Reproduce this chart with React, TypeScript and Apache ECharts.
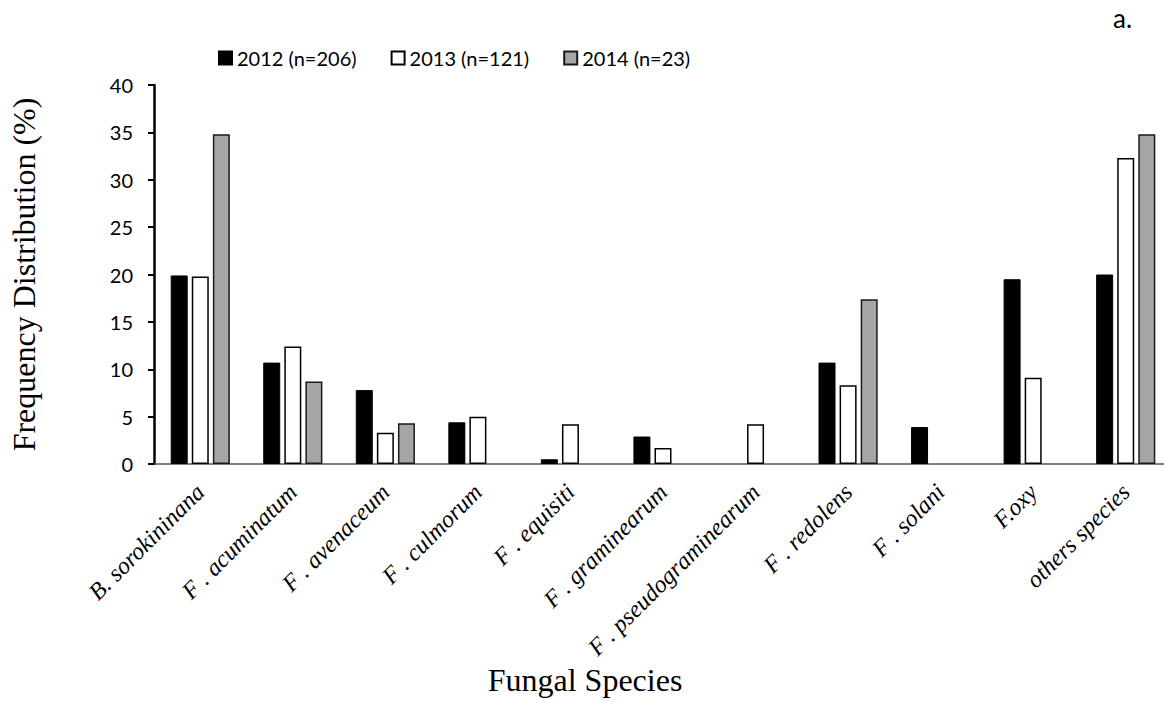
import React, { useEffect, useRef } from "react";
import * as echarts from "echarts";

const categories = [
  "B. sorokininana",
  "F . acuminatum",
  "F . avenaceum",
  "F . culmorum",
  "F . equisiti",
  "F . graminearum",
  "F . pseudograminearum",
  "F . redolens",
  "F . solani",
  "F.oxy",
  "others species",
];
const series2012 = [19.9, 10.7, 7.8, 4.4, 0.5, 2.9, 0, 10.7, 3.9, 19.5, 20.0];
const series2013 = [19.8, 12.4, 3.3, 5.0, 4.2, 1.7, 4.2, 8.3, 0, 9.1, 32.3];
const series2014 = [34.8, 8.7, 4.3, 0, 0, 0, 0, 17.4, 0, 0, 34.8];
const seriesNames = ["2012 (n=206)", "2013 (n=121)", "2014 (n=23)"];
const yTicks = { min: 0, max: 40, interval: 5 };

const SANS = "Lato, 'Liberation Sans', sans-serif";
const SERIF = "'Liberation Serif', 'Times New Roman', serif";

// zero-valued bars are not drawn in the reference (no stroke on the baseline)
const asBars = (vals: number[]) => vals.map((v) => (v === 0 ? "-" : v));

export default function App() {
  const ref = useRef<HTMLDivElement>(null);
  useEffect(() => {
    if (!ref.current) return;
    const chart = echarts.init(ref.current, undefined, { renderer: "svg" });
    const barBase = {
      type: "bar" as const,
      barWidth: 17,
      barGap: "24%",
    };
    chart.setOption({
      animation: false,
      backgroundColor: "#ffffff",
      legend: {
        top: 43,
        left: 213,
        icon: "rect",
        itemWidth: 13,
        itemHeight: 13,
        itemGap: 34,
        textStyle: { fontFamily: SANS, fontSize: 20, color: "#000" },
        data: seriesNames,
      },
      grid: { left: 143, right: -4, top: 85, bottom: 242 },
      xAxis: {
        type: "category",
        data: categories,
        axisLine: { lineStyle: { color: "#555", width: 1.5 } },
        axisTick: { show: false },
        axisLabel: {
          interval: 0,
          rotate: 45,
          margin: 24,
          fontFamily: SERIF,
          fontStyle: "italic",
          fontSize: 24,
          color: "#000",
        },
      },
      yAxis: {
        type: "value",
        min: yTicks.min,
        max: yTicks.max,
        interval: yTicks.interval,
        splitLine: { show: false },
        axisLine: { show: true, lineStyle: { color: "#000", width: 2.5 } },
        axisTick: { show: true, length: 6, lineStyle: { color: "#000", width: 2 } },
        axisLabel: { margin: 21, fontFamily: SANS, fontSize: 20, color: "#000" },
        name: "Frequency Distribution (%)",
        nameLocation: "middle",
        nameGap: 114,
        nameTextStyle: { fontFamily: SERIF, fontSize: 32, color: "#000" },
      },
      graphic: [
        {
          type: "text",
          x: 585,
          y: 680,
          style: {
            text: "Fungal Species",
            fontFamily: SERIF,
            fontSize: 32,
            fill: "#000",
            align: "center",
            verticalAlign: "middle",
          },
        },
        {
          type: "text",
          x: 1113,
          y: 18,
          style: {
            text: "a.",
            fontFamily: SANS,
            fontSize: 26,
            fill: "#000",
            align: "left",
            verticalAlign: "middle",
          },
        },
      ],
      series: [
        {
          ...barBase,
          name: seriesNames[0],
          data: asBars(series2012),
          itemStyle: { color: "#000", borderColor: "#000", borderWidth: 1 },
        },
        {
          ...barBase,
          name: seriesNames[1],
          data: asBars(series2013),
          itemStyle: { color: "#fff", borderColor: "#000", borderWidth: 1.5 },
        },
        {
          ...barBase,
          name: seriesNames[2],
          data: asBars(series2014),
          itemStyle: { color: "#a6a6a6", borderColor: "#1a1a1a", borderWidth: 1.5 },
        },
      ],
    });
    return () => chart.dispose();
  }, []);
  return <div ref={ref} style={{ width: 1172, height: 706, margin: -8 }} />;
}
